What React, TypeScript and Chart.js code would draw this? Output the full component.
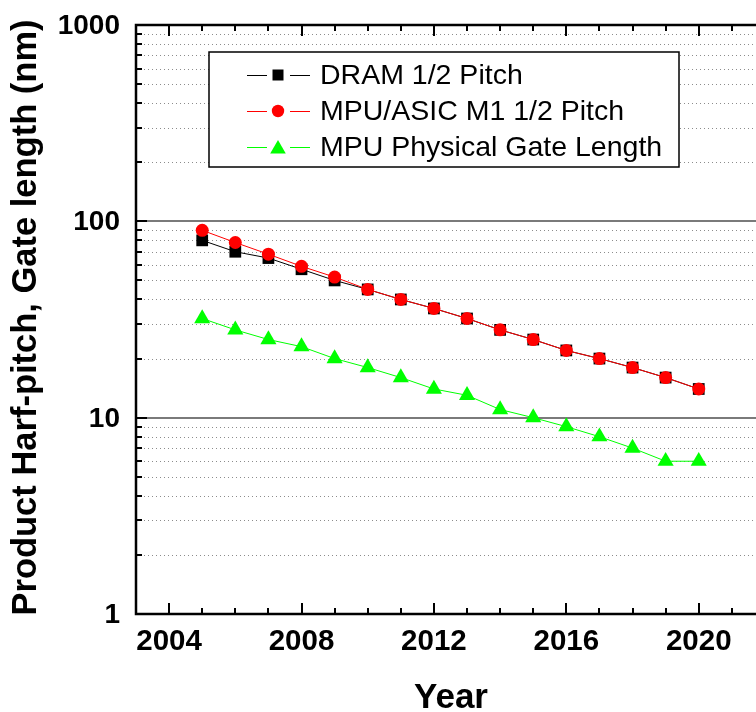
import React, { useEffect, useRef } from "react";
import { Chart, registerables } from "chart.js";

Chart.register(...registerables);

// ---------- data ----------
const YEARS = [2005, 2006, 2007, 2008, 2009, 2010, 2011, 2012, 2013, 2014, 2015, 2016, 2017, 2018, 2019, 2020];
const DRAM_HALF_PITCH = [80, 70, 65, 57, 50, 45, 40, 36, 32, 28, 25, 22, 20, 18, 16, 14];
const MPU_M1_HALF_PITCH = [90, 78, 68, 59, 52, 45, 40, 36, 32, 28, 25, 22, 20, 18, 16, 14];
const MPU_GATE_LENGTH = [32, 28, 25, 23, 20, 18, 16, 14, 13, 11, 10, 9, 8, 7, 6, 6];

const SERIES_NAMES = ["DRAM 1/2 Pitch", "MPU/ASIC M1 1/2 Pitch", "MPU Physical Gate Length"];
const X_TICK_LABELS = [2004, 2008, 2012, 2016, 2020];
const Y_TICK_LABELS = [1, 10, 100, 1000];
const Y_MINOR_FACTORS = [2, 3, 4, 5, 6, 7, 8, 9];
const X_TITLE = "Year";
const Y_TITLE = "Product Harf-pitch, Gate length (nm)";

const X_MIN = 2003;
const X_MAX = 2021.73;

const FONT = '"Liberation Sans", Arial, Helvetica, sans-serif';
const GREEN = "#00ff00";
const RED = "#ff0000";

function drawMarker(ctx: CanvasRenderingContext2D, kind: string, x: number, y: number, color: string) {
  ctx.save();
  ctx.fillStyle = color;
  ctx.beginPath();
  if (kind === "rect") {
    ctx.rect(x - 5.5, y - 5.5, 11, 11);
  } else if (kind === "circle") {
    ctx.arc(x, y, 6.2, 0, Math.PI * 2);
  } else {
    const r = 9;
    ctx.moveTo(x, y - r);
    ctx.lineTo(x + r * Math.sin((2 * Math.PI) / 3), y - r * Math.cos((2 * Math.PI) / 3));
    ctx.lineTo(x + r * Math.sin((4 * Math.PI) / 3), y - r * Math.cos((4 * Math.PI) / 3));
    ctx.closePath();
  }
  ctx.fill();
  ctx.restore();
}

const gridPlugin = {
  id: "originGrid",
  beforeDatasetsDraw(chart: any) {
    const ctx = chart.ctx as CanvasRenderingContext2D;
    const { left, right } = chart.chartArea;
    const ys = chart.scales.y;
    ctx.save();
    ctx.setLineDash([1, 3]);
    ctx.lineWidth = 1;
    ctx.strokeStyle = "#8c8c8c";
    for (const dec of [1, 10, 100]) {
      for (const m of Y_MINOR_FACTORS) {
        const py = Math.round(ys.getPixelForValue(dec * m)) + 0.5;
        ctx.beginPath();
        ctx.moveTo(left, py);
        ctx.lineTo(right, py);
        ctx.stroke();
      }
    }
    ctx.setLineDash([]);
    ctx.lineWidth = 2;
    ctx.strokeStyle = "#7a7a7a";
    for (const v of [10, 100]) {
      const py = Math.round(ys.getPixelForValue(v));
      ctx.beginPath();
      ctx.moveTo(left, py);
      ctx.lineTo(right, py);
      ctx.stroke();
    }
    ctx.restore();
  },
  afterDatasetsDraw(chart: any) {
    const ctx = chart.ctx as CanvasRenderingContext2D;
    const { left, right, top, bottom } = chart.chartArea;
    const xs = chart.scales.x;
    const ys = chart.scales.y;
    ctx.save();
    ctx.strokeStyle = "#000";
    ctx.lineWidth = 2.5;
    ctx.beginPath();
    ctx.moveTo(right + 2, top);
    ctx.lineTo(left, top);
    ctx.lineTo(left, bottom);
    ctx.lineTo(right + 2, bottom);
    ctx.stroke();
    ctx.lineWidth = 2;
    for (let yr = Math.ceil(X_MIN) + 1; yr <= Math.floor(X_MAX); yr++) {
      const px = Math.round(xs.getPixelForValue(yr));
      const len = yr % 4 === 0 ? 11 : 6;
      ctx.beginPath();
      ctx.moveTo(px, bottom);
      ctx.lineTo(px, bottom - len);
      ctx.moveTo(px, top);
      ctx.lineTo(px, top + len);
      ctx.stroke();
    }
    for (const dec of [1, 10, 100]) {
      for (const m of [1, ...Y_MINOR_FACTORS]) {
        const v = dec * m;
        const py = Math.round(ys.getPixelForValue(v));
        const len = m === 1 ? 11 : 6;
        ctx.beginPath();
        ctx.moveTo(left, py);
        ctx.lineTo(left + len, py);
        ctx.stroke();
      }
    }

    // tick labels, placed by the scales
    ctx.fillStyle = "#000";
    ctx.textBaseline = "alphabetic";
    ctx.font = `bold 29.5px ${FONT}`;
    ctx.textAlign = "center";
    for (const v of X_TICK_LABELS) {
      ctx.fillText(String(v), xs.getPixelForValue(v), bottom + 36);
    }
    ctx.font = `bold 28px ${FONT}`;
    ctx.textAlign = "right";
    for (const v of Y_TICK_LABELS) {
      ctx.fillText(String(v), left - 16, ys.getPixelForValue(v) + 9);
    }

    // legend
    const bx = 209, by = 52, bw = 470, bh = 115;
    ctx.fillStyle = "#fff";
    ctx.fillRect(bx, by, bw, bh);
    ctx.lineWidth = 1.5;
    ctx.strokeStyle = "#000";
    ctx.strokeRect(bx, by, bw, bh);
    const rows = [
      { y: 75, color: "#000", kind: "rect" },
      { y: 111, color: RED, kind: "circle" },
      { y: 147, color: GREEN, kind: "triangle" },
    ];
    ctx.font = `28.5px ${FONT}`;
    ctx.textBaseline = "middle";
    ctx.textAlign = "left";
    rows.forEach((r, i) => {
      ctx.strokeStyle = r.color;
      ctx.lineWidth = 1;
      ctx.beginPath();
      ctx.moveTo(247, r.y + 0.5);
      ctx.lineTo(267, r.y + 0.5);
      ctx.moveTo(290, r.y + 0.5);
      ctx.lineTo(310, r.y + 0.5);
      ctx.stroke();
      drawMarker(ctx, r.kind, 278, r.kind === "triangle" ? r.y + 2 : r.y, r.color);
      ctx.fillStyle = "#000";
      ctx.fillText(SERIES_NAMES[i], 320, r.y + 1);
    });

    ctx.restore();
  },
  afterDraw(chart: any) {
    const ctx = chart.ctx as CanvasRenderingContext2D;
    const { top, bottom } = chart.chartArea;
    ctx.save();
    ctx.fillStyle = "#000";
    ctx.textAlign = "center";
    ctx.textBaseline = "alphabetic";
    ctx.font = `bold 35px ${FONT}`;
    ctx.fillText(X_TITLE, 451, 708);
    ctx.translate(36, (top + bottom) / 2 - 2);
    ctx.rotate(-Math.PI / 2);
    ctx.font = `bold 34.5px ${FONT}`;
    ctx.fillText(Y_TITLE, 0, 0);
    ctx.restore();
  },
};

export default function App() {
  const canvasRef = useRef<HTMLCanvasElement | null>(null);

  useEffect(() => {
    if (!canvasRef.current) return;
    const mk = (vals: number[]) => YEARS.map((yr, i) => ({ x: yr, y: vals[i] }));
    const chart = new Chart(canvasRef.current, {
      type: "line",
      data: {
        datasets: [
          {
            label: SERIES_NAMES[0],
            data: mk(DRAM_HALF_PITCH),
            borderColor: "#000",
            backgroundColor: "#000",
            borderWidth: 1,
            pointStyle: "rect",
            pointRadius: 8.3,
            pointBorderWidth: 0,
            order: 2,
          },
          {
            label: SERIES_NAMES[1],
            data: mk(MPU_M1_HALF_PITCH),
            borderColor: RED,
            backgroundColor: RED,
            borderWidth: 1,
            pointStyle: "circle",
            pointRadius: 6.5,
            pointBorderWidth: 0,
            order: 1,
          },
          {
            label: SERIES_NAMES[2],
            data: mk(MPU_GATE_LENGTH),
            borderColor: GREEN,
            backgroundColor: GREEN,
            borderWidth: 1,
            pointStyle: "triangle",
            pointRadius: 9.3,
            pointBorderWidth: 0,
            order: 0,
          },
        ],
      },
      options: {
        animation: false,
        responsive: false,
        maintainAspectRatio: false,
        layout: { autoPadding: false, padding: { top: 25, right: 0, bottom: 0, left: 0 } },
        plugins: { legend: { display: false }, tooltip: { enabled: false }, title: { display: false } },
        scales: {
          x: {
            type: "linear",
            min: X_MIN,
            max: X_MAX,
            afterBuildTicks: (s: any) => {
              s.ticks = X_TICK_LABELS.map((v) => ({ value: v }));
            },
            afterFit: (s: any) => {
              s.height = 98;
            },
            ticks: { display: false },
            grid: { display: false, drawTicks: false },
            border: { display: false },
          },
          y: {
            type: "logarithmic",
            min: 1,
            max: 1000,
            afterBuildTicks: (s: any) => {
              s.ticks = Y_TICK_LABELS.map((v) => ({ value: v }));
            },
            afterFit: (s: any) => {
              s.width = 136;
            },
            ticks: { display: false },
            grid: { display: false, drawTicks: false },
            border: { display: false },
          },
        },
      } as any,
      plugins: [gridPlugin],
    });
    return () => chart.destroy();
  }, []);

  return (
    <div style={{ position: "absolute", left: 0, top: 0, width: 756, height: 712, background: "#fff", overflow: "hidden" }}>
      <canvas ref={canvasRef} width={756} height={712} style={{ display: "block", width: 756, height: 712 }} />
    </div>
  );
}
